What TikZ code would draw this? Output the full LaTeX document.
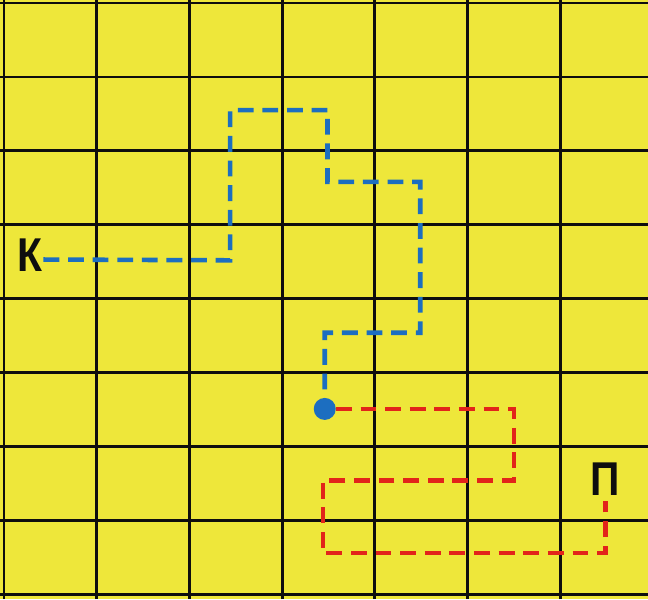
\documentclass[tikz,border=0pt]{standalone}
\usepackage{fontspec}
\usepackage{graphicx}
\setsansfont{Liberation Sans}
\usetikzlibrary{positioning}
\definecolor{page}{RGB}{238,231,58}
\definecolor{kpath}{RGB}{28,110,192}
\definecolor{ppath}{RGB}{226,36,26}
\definecolor{ink}{RGB}{14,14,14}

\begin{document}
\begin{tikzpicture}[
  x=3.708cm, y=2.9575cm,
  cell/.style={ink, line width=3.2pt},
  letter/.style={font=\sffamily\bfseries\fontsize{54}{54}\selectfont,
                 text=ink, inner sep=1pt},
  trail/.style={line width=5.2pt, dash pattern=on 18pt off 10pt},
]

\useasboundingbox (-0.0431,-0.0609) rectangle (6.947,8.0406);

% ---- page and grid ----
\fill[page] (-0.0431,-0.0609) rectangle (6.947,8.0406);
\foreach \i in {0,...,6}{\draw[cell] (\i,-0.0609) -- (\i,8.0406);}
\foreach \j in {0,...,8}{\draw[cell] (-0.0431,\j) -- (6.947,\j);}

% ---- letters and meeting point ----
\node[letter] (k) at (0.28,4.59) {\scalebox{0.86}[1]{К}};
\node[letter] (p) at (6.49,1.56) {\scalebox{0.86}[1]{П}};
\node[circle, fill=kpath, minimum size=0.88cm, inner sep=0pt]
      (dot) at (3.46,2.51) {};

% ---- blue trail ----
\draw[trail, kpath] ([yshift=-5pt]k.east) -- (2.44,4.52) |- (3.49,6.55)
      |- (4.49,5.58) |- (3.46,3.54) -- (dot);

% ---- red trail ----
\draw[trail, ppath, shorten >=5pt] (dot) -- (5.5,2.51) |- (3.44,1.54)
      -- (3.44,0.56) -| (p.south);

\end{tikzpicture}
\end{document}
